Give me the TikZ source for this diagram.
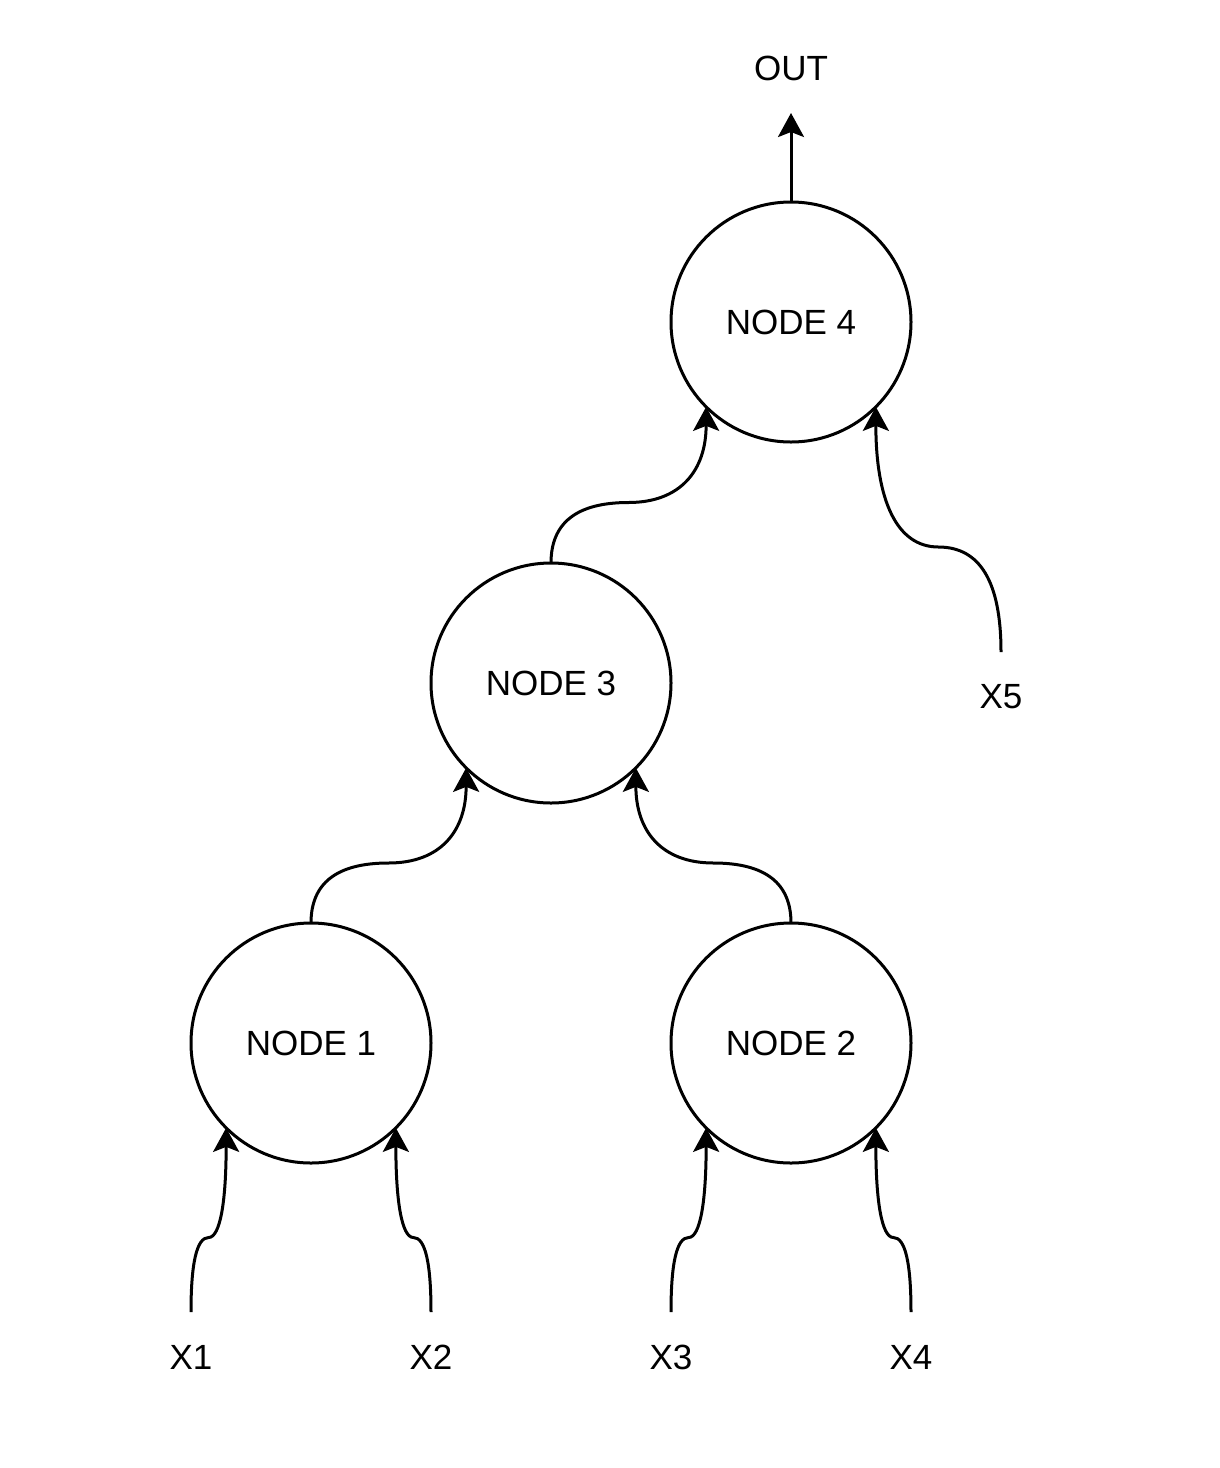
\documentclass[tikz,border=0pt]{standalone}
\usepackage{fontspec}
\setmainfont{Liberation Sans}
\usetikzlibrary{calc,arrows.meta}
\tikzset{
  circ/.style={circle,draw,line width=1.5pt,minimum size=120pt,inner sep=0pt,outer sep=0pt,font=\fontsize{17.5}{21}\selectfont},
  lbl/.style={inner sep=0pt,font=\fontsize{17.5}{21}\selectfont},
  link/.style={line width=1.5pt,-{Stealth[length=12pt,width=13pt,inset=2.5pt]}}
}
\newcommand{\curvelink}[3]{%
  \draw[link] let \p1=(#1), \p2=(#2), \p3=($(#1)!0.5!(#3.south)$) in
    (\p1) .. controls (\x1,{\y1+2/3*(\y3-\y1)}) and ({\x1+(\x2-\x1)/6},\y3) .. ({(\x1+\x2)/2},\y3)
          .. controls ({\x2-(\x2-\x1)/6},\y3) and (\x2,{\y2+2/3*(\y3-\y2)}) .. (\p2);}
\begin{document}
\begin{tikzpicture}[x=0.5pt,y=-0.5pt]
\useasboundingbox[fill=white] (0,0) rectangle (1220,1468);
\node[circ] (n4) at (791,322) {NODE 4};
\node[circ] (n3) at (551,683) {NODE 3};
\node[circ] (n1) at (311,1043) {NODE 1};
\node[circ] (n2) at (791,1043) {NODE 2};
\node[lbl] (out) at (791,68) {OUT};
\node[lbl] (x1) at (191,1357) {X1};
\node[lbl] (x2) at (431,1357) {X2};
\node[lbl] (x3) at (671,1357) {X3};
\node[lbl] (x4) at (911,1357) {X4};
\node[lbl] (x5) at (1001,697) {X5};
\coordinate (outtip) at (791,113);
\coordinate (s1) at (191,1312);
\coordinate (s2) at (431,1312);
\coordinate (s3) at (671,1312);
\coordinate (s4) at (911,1312);
\coordinate (s5) at (1001,652);
\draw[link] (n4.north) -- (outtip);
\curvelink{n3.north}{n4.225}{n4}
\curvelink{s5}{n4.315}{n4}
\curvelink{n1.north}{n3.225}{n3}
\curvelink{n2.north}{n3.315}{n3}
\curvelink{s1}{n1.225}{n1}
\curvelink{s2}{n1.315}{n1}
\curvelink{s3}{n2.225}{n2}
\curvelink{s4}{n2.315}{n2}
\end{tikzpicture}
\end{document}
